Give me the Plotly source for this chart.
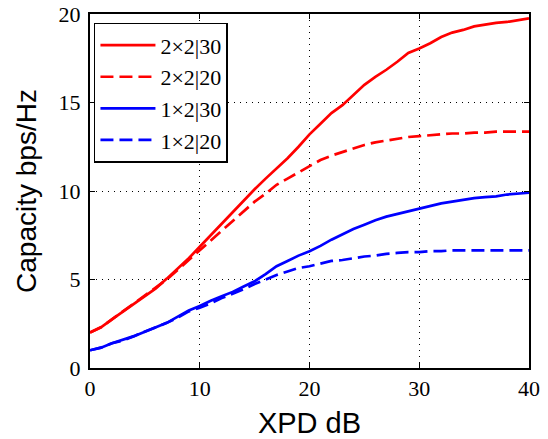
import plotly.graph_objects as go

xpd = list(range(0, 41))

cap_2x2_30 = [2.0, 2.3, 2.75, 3.2, 3.65, 4.1, 4.5, 5.05, 5.6, 6.2, 6.85, 7.5, 8.2, 8.85, 9.5,
              10.1, 10.7, 11.25, 11.85, 12.5, 13.2, 13.8, 14.4, 14.85, 15.45, 16.0, 16.45,
              16.85, 17.3, 17.8, 18.05, 18.35, 18.7, 18.95, 19.1, 19.3, 19.4, 19.5, 19.55,
              19.65, 19.75]
cap_2x2_20 = [2.0, 2.3, 2.75, 3.2, 3.6, 4.05, 4.5, 5.0, 5.55, 6.1, 6.65, 7.25, 7.8, 8.35, 8.9,
              9.4, 9.85, 10.35, 10.7, 11.05, 11.4, 11.75, 12.0, 12.2, 12.4, 12.6, 12.75,
              12.85, 12.95, 13.05, 13.1, 13.15, 13.2, 13.25, 13.25, 13.3, 13.3, 13.35, 13.35,
              13.35, 13.35]
cap_1x2_30 = [1.0, 1.15, 1.4, 1.6, 1.8, 2.05, 2.3, 2.55, 2.9, 3.25, 3.5, 3.8, 4.05, 4.3, 4.6,
              4.9, 5.3, 5.75, 6.05, 6.35, 6.6, 6.9, 7.25, 7.55, 7.85, 8.1, 8.35, 8.55, 8.7,
              8.85, 9.0, 9.15, 9.3, 9.4, 9.5, 9.6, 9.65, 9.7, 9.8, 9.85, 9.9]
cap_1x2_20 = [1.0, 1.15, 1.4, 1.55, 1.8, 2.05, 2.3, 2.55, 2.85, 3.2, 3.4, 3.65, 3.95, 4.2, 4.45,
              4.75, 5.0, 5.25, 5.45, 5.65, 5.75, 5.9, 6.05, 6.1, 6.2, 6.3, 6.35, 6.45, 6.5,
              6.55, 6.55, 6.6, 6.6, 6.65, 6.65, 6.65, 6.65, 6.65, 6.65, 6.65, 6.65]

series = [
    ("2×2|30", cap_2x2_30, "#ff0000", "solid"),
    ("2×2|20", cap_2x2_20, "#ff0000", "13px,6px"),
    ("1×2|30", cap_1x2_30, "#0000ff", "solid"),
    ("1×2|20", cap_1x2_20, "#0000ff", "13px,6px"),
]

x_ticks = [0, 10, 20, 30, 40]
y_ticks = [0, 5, 10, 15, 20]

fig = go.Figure()
for name, vals, color, dash in series:
    fig.add_trace(go.Scatter(x=xpd, y=vals, mode="lines", name=name,
                             line=dict(color=color, width=2.7, dash=dash)))

axis_common = dict(
    showline=True, linecolor="black", linewidth=2, mirror="ticks",
    ticks="inside", ticklen=5, tickcolor="black", tickwidth=1,
    showgrid=True, gridcolor="black", gridwidth=1, griddash="1px,5px",
    zeroline=False, automargin=False, ticklabeloverflow="allow",
    tickfont=dict(family="Liberation Serif", size=22, color="black"),
)

fig.update_xaxes(range=[0, 40], tickvals=x_ticks, **axis_common,
                 title=dict(text="XPD dB", standoff=12,
                            font=dict(family="Liberation Sans", size=29, color="black")))
fig.update_yaxes(range=[0, 20], tickvals=y_ticks, ticklabelstandoff=3, **axis_common,
                 title=dict(text="Capacity bps/Hz", standoff=14,
                            font=dict(family="Liberation Sans", size=28, color="black")))

fig.update_layout(
    width=548, height=439,
    margin=dict(l=90, r=19, t=14, b=71, autoexpand=False),
    paper_bgcolor="white", plot_bgcolor="white",
    legend=dict(x=0.009, y=0.975, xanchor="left", yanchor="top",
                bgcolor="white", bordercolor="black", borderwidth=1.5,
                itemwidth=55,
                font=dict(family="Liberation Serif", size=22, color="black")),
    showlegend=True,
)

fig.write_html("out.html", config={"displayModeBar": False},
               post_script="document.body.style.margin='0';document.body.style.padding='0';")
